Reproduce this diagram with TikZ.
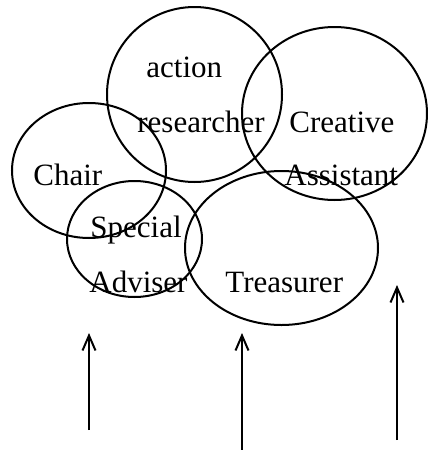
\documentclass[tikz,border=0pt]{standalone}
\usepackage{fontspec}
\setmainfont{Liberation Serif}
\usepackage{tikz}
\usetikzlibrary{shapes.geometric}
\usetikzlibrary{arrows.meta}

\begin{document}
\begin{tikzpicture}[x=0.5pt, y=-0.5pt]
    \tikzstyle{role-bulle}=[ellipse, draw, inner sep=0pt, line width=1pt]
    \tikzstyle{role-texte}=[anchor=base west, inner sep=0pt, font=\fontsize{15.5}{18}\selectfont]
    \tikzstyle{fleche}=[-{Straight Barb[length=7.5pt, width=6.5pt]}, line width=1pt]

    \useasboundingbox (0,0) rectangle (428,450);

    % les bulles
    \node[role-bulle, minimum width=87.5pt, minimum height=87.5pt] (bulle-researcher) at (194.5,94.5) {};
    \node[role-bulle, minimum width=92.5pt, minimum height=86.5pt] (bulle-assistant) at (334.5,113.5) {};
    \node[role-bulle, minimum width=77pt, minimum height=67.5pt] (bulle-chair) at (89,170.5) {};
    \node[role-bulle, minimum width=67.5pt, minimum height=58pt] (bulle-adviser) at (134.5,239) {};
    \node[role-bulle, minimum width=96.5pt, minimum height=77pt] (bulle-treasurer) at (281.5,248) {};

    % les textes
    \node[role-texte] (action) at (146,77) {action};
    \node[role-texte] (researcher) at (137,132) {researcher};
    \node[role-texte] (creative) at (289,132) {Creative};
    \node[role-texte] (chair) at (33,185) {Chair};
    \node[role-texte] (assistant) at (284,185) {Assistant};
    \node[role-texte] (special) at (90,237) {Special};
    \node[role-texte] (adviser) at (89,292) {Adviser};
    \node[role-texte] (treasurer) at (225,292) {Treasurer};

    % les fleches
    \coordinate (pied-1) at (89,430);
    \coordinate (tete-1) at (89,333);
    \coordinate (pied-2) at (242,450);
    \coordinate (tete-2) at (242,333);
    \coordinate (pied-3) at (397,440);
    \coordinate (tete-3) at (397,285);
    \draw[fleche] (pied-1) -- (tete-1);
    \draw[fleche] (pied-2) -- (tete-2);
    \draw[fleche] (pied-3) -- (tete-3);
\end{tikzpicture}
\end{document}
